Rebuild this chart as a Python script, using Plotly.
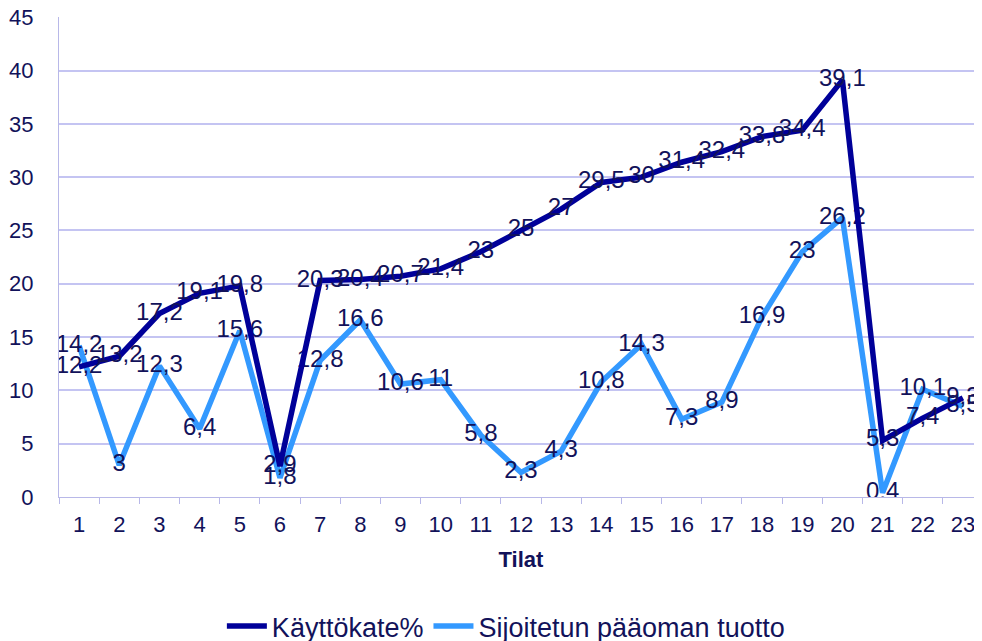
import plotly.graph_objects as go

categories = [str(i) for i in range(1, 24)]
kayttokate = [12.2, 13.2, 17.2, 19.1, 19.8, 2.9, 20.3, 20.4, 20.7, 21.4, 23, 25, 27,
              29.5, 30, 31.4, 32.4, 33.8, 34.4, 39.1, 5.3, 7.4, 9.3]
sijoitetun = [14.2, 3, 12.3, 6.4, 15.6, 1.8, 12.8, 16.6, 10.6, 11, 5.8, 2.3, 4.3,
              10.8, 14.3, 7.3, 8.9, 16.9, 23, 26.2, 0.4, 10.1, 8.5]
y_ticks = [0, 5, 10, 15, 20, 25, 30, 35, 40, 45]

def fmt(v):
    return ("%g" % v).replace(".", ",")

FONT = "Liberation Sans, Arial, sans-serif"
TXT = "#12125a"

fig = go.Figure()
fig.add_trace(go.Scatter(
    x=categories, y=sijoitetun, name="Sijoitetun pääoman tuotto",
    mode="lines+text", line=dict(color="#3399ff", width=5.5),
    text=[fmt(v) for v in sijoitetun], textposition="middle center",
    textfont=dict(family=FONT, size=24, color=TXT), legendrank=2))
fig.add_trace(go.Scatter(
    x=categories, y=kayttokate, name="Käyttökate%",
    mode="lines+text", line=dict(color="#000099", width=5.5),
    text=[fmt(v) for v in kayttokate], textposition="middle center",
    textfont=dict(family=FONT, size=24, color=TXT), legendrank=1))

fig.update_layout(
    width=982, height=641,
    margin=dict(l=51, r=7, t=9, b=152, autoexpand=False),
    plot_bgcolor="white", paper_bgcolor="white",
    font=dict(family=FONT, size=22, color=TXT),
    showlegend=True,
    legend=dict(orientation="h", xref="container", yref="container",
                x=0.507, xanchor="center", y=0.035, yanchor="middle",
                font=dict(size=27, color=TXT), traceorder="normal",
                itemwidth=40),
)
fig.update_xaxes(
    type="category", range=[-0.5, 22.5],
    ticks="outside", tickson="boundaries", ticklen=6, tickcolor="#b8b8e8",
    showline=True, linecolor="#b8b8e8", linewidth=1, showgrid=False,
    title=dict(text="<b>Tilat</b>", font=dict(size=22, color=TXT), standoff=15),
    tickfont=dict(size=22, color=TXT), ticklabelstandoff=8)
fig.update_yaxes(
    range=[0, 45.02], tickvals=y_ticks, showgrid=True, gridcolor="#c4c4f2", gridwidth=1.5,
    zeroline=False, showline=True, linecolor="#b8b8e8", ticks="",
    ticklabelstandoff=20, ticklabeloverflow="allow", tickfont=dict(size=22, color=TXT))

fig.write_html("out.html")
